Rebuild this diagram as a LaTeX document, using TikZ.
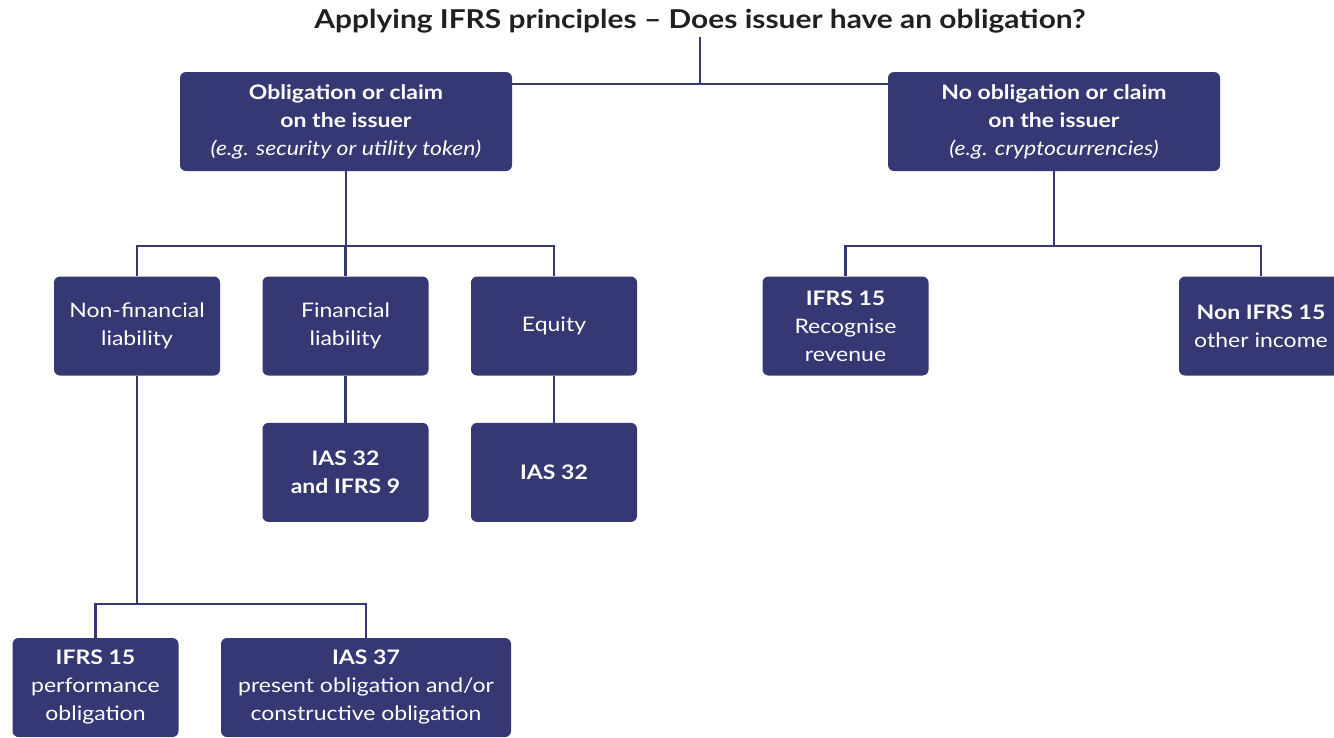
\documentclass[tikz,border=0pt]{standalone}
\usepackage{fontspec}
\setmainfont{Lato}[FakeStretch=1.15]
\usetikzlibrary{positioning}
\definecolor{navy}{RGB}{53,56,114}
\definecolor{titlegray}{RGB}{35,31,32}

\begin{document}
\begin{tikzpicture}[x=1pt,y=-1pt,
 box node/.style={rectangle,rounded corners=6pt,fill=navy,text=white,align=center,
  inner sep=0pt,font=\fontsize{20}{28}\selectfont},
 wide node/.style={box node,minimum width=332pt,minimum height=99pt},
 small node/.style={box node,minimum width=166pt,minimum height=99pt},
 link/.style={draw=navy,line width=2.4pt}]

  \clip (0,0) rectangle (1334,737);

  \node[font=\fontsize{26}{30}\selectfont\bfseries,text=titlegray] (title) at (700,21)
   {Applying IFRS principles – Does issuer have an obligation?};

  \node[wide node] (claim) at (346,121.5) {\textbf{Obligation or claim}\\\textbf{on the issuer}\\\textit{(e.g. security or utility token)}};
  \node[wide node] (noclaim) at (1054,121.5) {\textbf{No obligation or claim}\\\textbf{on the issuer}\\\textit{(e.g. cryptocurrencies)}};

  \node[small node] (nonfin) at (137,326) {Non-financial\\liability};
  \node[small node] (fin) at (345.5,326) {Financial\\liability};
  \node[small node] (equity) at (554,326) {Equity};
  \node[small node] (ias3209) [below=47pt of fin] {\textbf{IAS 32}\\\textbf{and IFRS 9}};
  \node[small node] (ias32) [below=47pt of equity] {\textbf{IAS 32}};

  \node[small node] (ifrsperf) at (95.5,687.5) {\textbf{IFRS 15}\\performance\\obligation};
  \node[box node,minimum width=290pt,minimum height=99pt] (ias37) at (366,687.5)
   {\textbf{IAS 37}\\present obligation and/or\\constructive obligation};

  \node[small node] (ifrsrev) at (845.5,326) {\textbf{IFRS 15}\\Recognise\\revenue};
  \node[small node,minimum width=164pt] (nonifrs) at (1261,326) {\textbf{Non IFRS 15}\\other income};

  \coordinate (top) at (700,84);
  \coordinate (jclaim) at (346,246);
  \coordinate (jnoclaim) at (1054,246);
  \coordinate (jnonfin) at (137,604);

  \path[link] (title) -- (top);
  \path[link] (claim.east |- top) -- (noclaim.west |- top);

  \foreach \s/\j/\t in {claim/jclaim/nonfin, claim/jclaim/fin, claim/jclaim/equity,
   noclaim/jnoclaim/ifrsrev, noclaim/jnoclaim/nonifrs,
   nonfin/jnonfin/ifrsperf, nonfin/jnonfin/ias37} {
   \path[link] (\s) -- (\j) -| (\t);}

  \path[link] (fin) -- (ias3209);
  \path[link] (equity) -- (ias32);

\end{tikzpicture}
\end{document}
